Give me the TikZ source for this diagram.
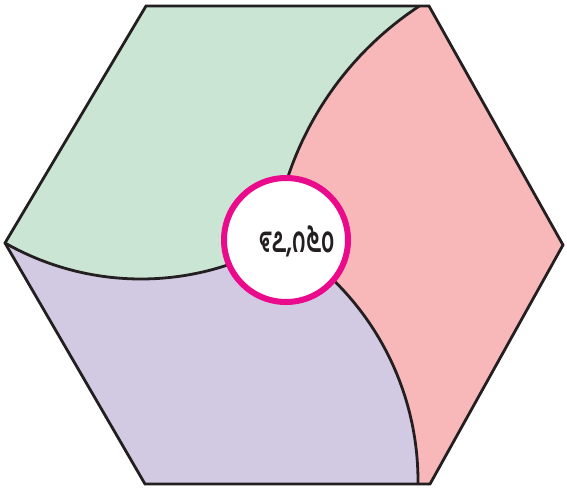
\documentclass[tikz,border=0pt]{standalone}
\usepackage{graphicx}
\usepackage{fontspec}
\newfontfamily\kanfont[Script=Kannada]{Hind Mysuru}
\definecolor{ink}{HTML}{231F20}
\definecolor{mint}{HTML}{CBE5D5}
\definecolor{rosy}{HTML}{F8B8BA}
\definecolor{lilac}{HTML}{D2C9E2}
\definecolor{magenta}{HTML}{EA0A8C}
\begin{document}
\begin{tikzpicture}[x=1pt,y=-1pt,
  edge/.style={ink,line width=2.8pt,line join=miter},
  hub/.style={circle,fill=white,draw=magenta,line width=6pt,minimum size=124pt,inner sep=0pt}]
\useasboundingbox (0,0) rectangle (567,487);
% hexagon vertices
\coordinate (TL) at (146,6);
\coordinate (TR) at (429,6);
\coordinate (R) at (563,245);
\coordinate (BR) at (430,484);
\coordinate (BL) at (145,484);
\coordinate (L) at (5,243);
\coordinate (O) at (286,240);
% sectors
\fill[mint] (L) -- (TL)
  -- plot[domain=236.65:197,samples=60] ({600+329*cos(\x)},{281+329*sin(\x)})
  -- (O)
  -- plot[domain=70:119.65,samples=60] ({141+275*cos(\x)},{4+275*sin(\x)}) -- cycle;
\fill[rosy] (TR) -- (R) -- (BR)
  -- plot[domain=0.6:-47,samples=60] ({137+281*cos(\x)},{481+281*sin(\x)})
  -- (O)
  -- plot[domain=197:236.65,samples=60] ({600+329*cos(\x)},{281+329*sin(\x)}) -- cycle;
\fill[lilac] plot[domain=119.65:70,samples=60] ({141+275*cos(\x)},{4+275*sin(\x)})
  -- (O)
  -- plot[domain=-47:0.6,samples=60] ({137+281*cos(\x)},{481+281*sin(\x)})
  -- (BL) -- cycle;
% dividing curves
\draw[edge] plot[domain=236.65:197,samples=60,smooth] ({600+329*cos(\x)},{281+329*sin(\x)});
\draw[edge] plot[domain=119.65:70,samples=60,smooth] ({141+275*cos(\x)},{4+275*sin(\x)});
\draw[edge] plot[domain=-47:0.6,samples=60,smooth] ({137+281*cos(\x)},{481+281*sin(\x)});
% hexagon outline
\draw[edge] (TL) -- (TR) -- (R) -- (BR) -- (BL) -- (L) -- cycle;
% centre
\node[hub] (hub) at (O) {};
\node[text=ink,font=\kanfont\bfseries\fontsize{36}{40}\selectfont] (num) at (297,241) {\scalebox{0.64}[1]{೯೭,೧೬೦}};
\end{tikzpicture}
\end{document}
